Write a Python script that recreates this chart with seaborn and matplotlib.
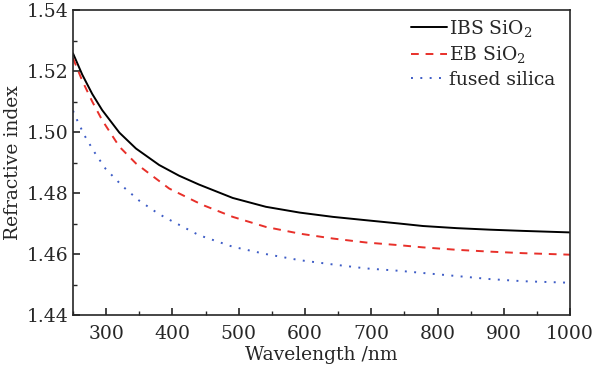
import numpy as np
import pandas as pd
import seaborn as sns
import matplotlib.pyplot as plt
from matplotlib.ticker import MultipleLocator

# values (wavelength in nm, refractive index)
ibs_wl = [250, 264, 279, 294, 320, 345, 380, 410, 440, 491, 541, 592, 642, 692, 743, 778, 829, 879, 929, 1000]
ibs_n = [1.5258, 1.5188, 1.5125, 1.5072, 1.4998, 1.4946, 1.4892, 1.4857, 1.4828, 1.4784, 1.4755,
         1.4736, 1.4722, 1.4711, 1.4700, 1.4692, 1.4685, 1.4680, 1.4676, 1.4671]

eb_wl = [250, 264, 279, 294, 320, 345, 365, 395, 436, 448, 491, 541, 592, 642, 692, 743, 778, 829, 879, 929, 1000]
eb_n = [1.5242, 1.5168, 1.5100, 1.5039, 1.4952, 1.4897, 1.4864, 1.4815, 1.4771, 1.4759, 1.4722,
        1.4689, 1.4667, 1.4651, 1.4638, 1.4629, 1.4622, 1.4614, 1.4608, 1.4603, 1.4598]

fs_wl = [250, 256, 267, 282, 299, 325, 350, 375, 388, 440, 491, 541, 592, 642, 692, 743, 778, 829, 879, 929, 1000]
fs_n = [1.5070, 1.5040, 1.4990, 1.4935, 1.4880, 1.4822, 1.4775, 1.4738, 1.4721, 1.4662, 1.4624,
        1.4600, 1.4580, 1.4566, 1.4553, 1.4545, 1.4538, 1.4528, 1.4518, 1.4511, 1.4506]

labels = ["IBS SiO$_2$", "EB SiO$_2$", "fused silica"]
colors = ["black", "#e8302a", "#3d5cc6"]
styles = ["-", (0, (4, 3.5)), (0, (1, 3.8))]

sns.set_style("ticks")
plt.rcParams["font.family"] = ["DejaVu Serif"]
plt.rcParams["mathtext.fontset"] = "dejavuserif"

fig = plt.figure(figsize=(5.96, 3.72), dpi=100)
ax = fig.add_axes([0.1225, 0.153, 0.834, 0.820])

series = [(ibs_wl, ibs_n), (eb_wl, eb_n), (fs_wl, fs_n)]
for (wl, n), lab, c, ls in zip(series, labels, colors, styles):
    df = pd.DataFrame({"wl": wl, "n": n})
    sns.lineplot(data=df, x="wl", y="n", ax=ax, color=c, linestyle=ls, linewidth=1.4, label=lab)

ax.set_xlim(250, 1000)
ax.set_ylim(1.44, 1.54)
ax.xaxis.set_major_locator(MultipleLocator(100))
ax.xaxis.set_minor_locator(MultipleLocator(50))
ax.yaxis.set_major_locator(MultipleLocator(0.02))
ax.yaxis.set_minor_locator(MultipleLocator(0.01))
ax.tick_params(which="both", direction="in", labelsize=13.5, top=False, right=False)
ax.tick_params(axis="x", which="major", pad=7)
ax.tick_params(which="major", length=5, width=1.2)
ax.tick_params(which="minor", length=3, width=1.0)
ax.set_yticklabels([f"{v:.2f}" for v in ax.get_yticks()])
for s in ax.spines.values():
    s.set_linewidth(1.2)

ax.set_xlabel("Wavelength /nm", fontsize=13.5, labelpad=2)
ax.set_ylabel("Refractive index", fontsize=13.5, labelpad=3)

leg = ax.legend(loc="upper right", frameon=False, fontsize=13.5, handlelength=1.9,
                handletextpad=0.1, labelspacing=0.3, borderaxespad=0,
                bbox_to_anchor=(0.985, 1.0))

fig.savefig("out.png", dpi=100)
